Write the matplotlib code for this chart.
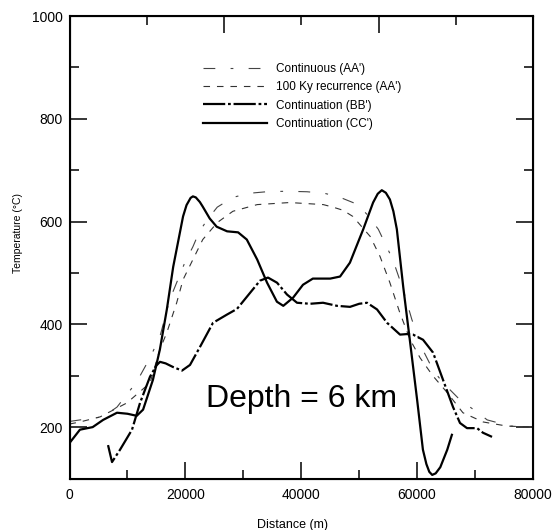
import matplotlib
matplotlib.use("Agg")
import matplotlib.pyplot as plt
from matplotlib.ticker import MultipleLocator, NullFormatter

# ─── Data ────────────────────────────────────────────────────────────────────
aa_cont_x = [0, 1800, 5800, 8200, 11600, 13900, 15600, 17300, 19900, 21300,
             22400, 23800, 25500, 28200, 31000, 34000, 37500, 41000, 44000,
             46500, 49800, 51500, 53300, 55800, 57600, 59100, 61000, 62800,
             64500, 67400, 70000, 72100, 76100, 80000]
aa_cont_y = [211, 214, 220, 239, 288, 335, 376, 448, 520, 551,
             580, 604, 628, 647, 655, 658, 659, 658, 655,
             648, 633, 612, 585, 526, 467, 409, 350, 310,
             286, 253, 232, 214, 202, 200]

aa_100ky_x = [0, 1800, 5300, 9900, 13900, 15600, 16800, 18500, 19600, 21300,
              23000, 25500, 28200, 32400, 38000, 43800, 45500, 47200, 48900,
              51900, 53600, 55300, 57000, 58800, 60500, 62700, 65200, 67900,
              71400, 75500, 80000]
aa_100ky_y = [206, 210, 220, 247, 286, 351, 384, 442, 487, 526,
              565, 598, 620, 633, 637, 633, 628, 622, 610,
              571, 532, 481, 423, 370, 335, 300, 267, 228,
              210, 202, 200]

bb_x = [6650, 7340, 8720, 10790, 12170, 13890, 15000, 15620, 16600, 17860,
        19420, 20800, 22520, 24770, 27180, 28910, 30640, 32880, 34260, 35820,
        37540, 39270, 41510, 43760, 46170, 48420, 50000, 51350, 53080, 54810,
        57050, 58200, 59290, 61020, 62750, 64470, 66200, 67400, 68610, 70340,
        71370, 72930]
bb_y = [165, 132, 156, 195, 247, 298, 320, 327, 324, 317,
        310, 321, 356, 403, 419, 430, 454, 485, 491, 481,
        458, 442, 440, 442, 436, 434, 440, 442, 429, 403,
        380, 381, 380, 370, 345, 292, 239, 208, 198, 198,
        189, 181]

cc_x = [0, 1800, 4000, 5800, 8200, 10000, 11600, 12700, 14400, 15600,
        16800, 17900, 19600, 20200, 20900, 21300, 21800, 22500, 23000, 24200,
        25400, 27200, 29100, 30600, 32400, 34100, 35800, 36900, 38600, 40300,
        42000, 45000, 46700, 48400, 50700, 52400, 53200, 53900, 54600, 55300,
        55900, 56500, 57600, 58800, 60000, 61000, 61600, 62100, 62600, 63200,
        64000, 65200, 66000]
cc_y = [169, 195, 200, 214, 228, 226, 222, 234, 292, 351,
        429, 512, 610, 632, 646, 649, 647, 638, 629, 606,
        590, 581, 579, 565, 526, 481, 444, 436, 452, 477,
        489, 489, 493, 520, 585, 637, 654, 661, 656, 643,
        620, 585, 473, 364, 253, 156, 128, 113, 107, 110,
        122, 156, 185]

labels = ["Continuous (AA')", "100 Ky recurrence (AA')",
          "Continuation (BB')", "Continuation (CC')"]

# ─── Style ───────────────────────────────────────────────────────────────────
plt.rcParams["font.family"] = ["Liberation Sans", "DejaVu Sans"]
plt.rcParams["lines.scale_dashes"] = False

fig = plt.figure(figsize=(5.52, 5.30), dpi=100)
ax = fig.add_axes([69.5 / 552, 1 - 478.5 / 530, 463.5 / 552, 462.5 / 530])

ax.plot(aa_cont_x, aa_cont_y, color="#444444", lw=0.8,
        dashes=(8.5, 11, 2, 11), label=labels[0])
ax.plot(aa_100ky_x, aa_100ky_y, color="#333333", lw=0.8,
        dashes=(4.7, 5), label=labels[1])
ax.plot(bb_x, bb_y, color="black", lw=1.6, dashes=(16, 2, 2, 2),
        solid_joinstyle="round", dash_joinstyle="round", label=labels[2])
ax.plot(cc_x, cc_y, color="black", lw=1.6, solid_joinstyle="round",
        label=labels[3])

ax.set_xlim(0, 80000)
ax.set_ylim(100, 1000)
ax.xaxis.set_major_locator(MultipleLocator(20000))
ax.xaxis.set_minor_locator(MultipleLocator(10000))
ax.yaxis.set_major_locator(MultipleLocator(200))
ax.yaxis.set_minor_locator(MultipleLocator(100))
ax.tick_params(which="both", direction="in", width=1.1, right=True,
               labelsize=10)
ax.tick_params(axis="y", pad=5)
ax.tick_params(axis="x", pad=7)
ax.tick_params(which="major", length=12)
ax.tick_params(which="minor", length=6.5)
for s in ax.spines.values():
    s.set_linewidth(1.5)

# odd top ticks (6 divisions)
top = ax.twiny()
top.set_xlim(0, 6)
top.set_xticks([2, 4])
top.set_xticks([1, 3, 5], minor=True)
top.xaxis.set_major_formatter(NullFormatter())
top.tick_params(which="both", direction="in", width=1.1)
top.tick_params(which="major", length=12)
top.tick_params(which="minor", length=6.5)

ax.set_xlabel("Distance (m)", fontsize=9)
ax.xaxis.set_label_coords(0.482, -0.087)
ax.xaxis.label.set_va("top")
ax.set_ylabel("Temperature (\u00b0C)", fontsize=7.5)
ax.yaxis.set_label_coords(-0.100, 0.53)

ax.text(40000, 239, "Depth = 6 km", fontsize=23, ha="center", va="baseline")

ax.legend(loc="upper left", bbox_to_anchor=(203 / 552, 1 - 63 / 530),
          bbox_transform=fig.transFigure, frameon=False, fontsize=8.5,
          handlelength=5.4, handletextpad=0.76, labelspacing=0.53,
          borderpad=0, borderaxespad=0)

fig.savefig("out.png", dpi=100)
